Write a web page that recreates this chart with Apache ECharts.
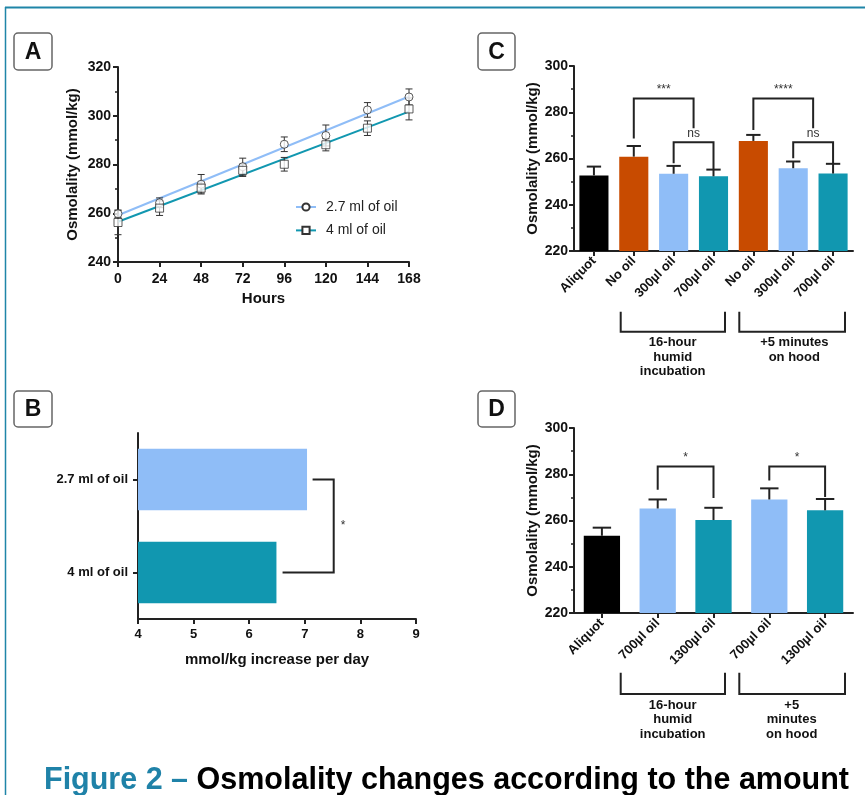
<!DOCTYPE html>
<html>
<head>
<meta charset="utf-8">
<script src="https://cdn.jsdelivr.net/npm/echarts@6/dist/echarts.min.js"></script>
<style>
html, body { margin: 0; padding: 0; background: #fff; }
#main { width: 865px; height: 795px; }
</style>
</head>
<body>
<div id="main"></div>
<script>
// ---- panel A : osmolality vs hours ----
var hours = [0, 24, 48, 72, 96, 120, 144, 168];
var osm27 = [259.8, 264.3, 271.9, 279.1, 288.3, 291.9, 302.4, 307.7];
var err27 = [1.5, 2, 4, 3.5, 3, 4.3, 3, 3.3];
var osm4 = [256.2, 262.1, 270.3, 277.6, 280.1, 288.1, 294.9, 302.8];
var err4 = [5, 3, 2, 2.5, 2.8, 2.5, 3, 4.5];
var fitHours = [0, 168];
var fit27 = [259.2, 307.9];
var fit4 = [256.5, 301.7];

// ---- panel B : increase per day ----
var bCats = ['4 ml of oil', '2.7 ml of oil'];
var bRates = [6.49, 7.04];
// bracket: [start of upper arm, spine, start of lower arm]
var bBracket = [7.14, 7.52, 6.6];
var bLabel = '*';

// ---- panel C ----
var cCats = ['Aliquot', 'No oil', '300\u00b5l oil', '700\u00b5l oil', 'No oil', '300\u00b5l oil', '700\u00b5l oil'];
var cVals = [252.7, 260.8, 253.4, 252.3, 267.6, 255.8, 253.5];
var cErr = [3.8, 4.6, 3.4, 2.9, 2.6, 2.9, 4.2];
// brackets: [left x, right x, top, left leg end, right leg end]
var cBrackets = [[1, 2.5, 286, 268.7, 273.1], [2, 3, 267, 257.9, 255.3], [4, 5.5, 286, 272.3, 273.1], [5, 6, 267, 260.1, 257.9]];
var cLabels = ['***', 'ns', '****', 'ns'];

// ---- panel D ----
var dCats = ['Aliquot', '700\u00b5l oil', '1300\u00b5l oil', '700\u00b5l oil', '1300\u00b5l oil'];
var dVals = [253.4, 265.2, 260.2, 269.1, 264.4];
var dErr = [3.5, 3.9, 5.3, 4.8, 4.9];
var dBrackets = [[1, 2, 283.4, 273.3, 269.7], [3, 4, 283.4, 277.3, 270.2]];
var dLabels = ['*', '*'];

var BLACK = '#000000', ORANGE = '#c84b00', LBLUE = '#8fbdf7', TEAL = '#1197b0';
var cColors = [BLACK, ORANGE, LBLUE, TEAL, ORANGE, LBLUE, TEAL];
var dColors = [BLACK, LBLUE, TEAL, LBLUE, TEAL];
var FONT = '"Liberation Sans", Arial, sans-serif';
var INK = '#222';

var chart = echarts.init(document.getElementById('main'));

function axisCommon(extra) {
  var o = {
    axisLine: { show: true, onZero: false, lineStyle: { color: INK, width: 2 } },
    axisTick: { show: true, length: 5, lineStyle: { color: INK, width: 2 } },
    axisLabel: { color: '#111', fontFamily: FONT, fontWeight: 'bold', fontSize: 14 },
    splitLine: { show: false },
    nameTextStyle: { color: '#111', fontFamily: FONT, fontWeight: 'bold', fontSize: 15 }
  };
  for (var k in extra) {
    if (typeof extra[k] === 'object' && o[k] && !Array.isArray(extra[k])) {
      for (var j in extra[k]) o[k][j] = extra[k][j];
    } else o[k] = extra[k];
  }
  return o;
}
var minorT = { show: true, splitNumber: 2, length: 3, lineStyle: { color: INK, width: 1.5 } };

function errRenderA(params, api) {
  var x = api.value(0);
  var lo = api.coord([x, api.value(1)]);
  var hi = api.coord([x, api.value(2)]);
  var w = 3.5, st = { stroke: '#333', lineWidth: 1 };
  return { type: 'group', children: [
    { type: 'line', shape: { x1: lo[0], y1: lo[1], x2: hi[0], y2: hi[1] }, style: st },
    { type: 'line', shape: { x1: lo[0] - w, y1: lo[1], x2: lo[0] + w, y2: lo[1] }, style: st },
    { type: 'line', shape: { x1: hi[0] - w, y1: hi[1], x2: hi[0] + w, y2: hi[1] }, style: st }
  ] };
}
function errRenderBar(frac) {
  return function (params, api) {
    var x = api.value(0);
    var lo = api.coord([x, api.value(1)]);
    var hi = api.coord([x, api.value(2)]);
    var w = api.size([1, 0])[0] * frac / 2;
    var st = { stroke: INK, lineWidth: 2 };
    return { type: 'group', children: [
      { type: 'line', shape: { x1: lo[0], y1: lo[1], x2: hi[0], y2: hi[1] }, style: st },
      { type: 'line', shape: { x1: hi[0] - w, y1: hi[1], x2: hi[0] + w, y2: hi[1] }, style: st }
    ] };
  };
}
function bracketRender(labels) {
  return function (params, api) {
    var x1 = api.value(0), x2 = api.value(1), top = api.value(2);
    var p1 = api.coord([x1, api.value(3)]), p2 = api.coord([x1, top]);
    var p3 = api.coord([x2, top]), p4 = api.coord([x2, api.value(4)]);
    return { type: 'group', children: [
      { type: 'polyline', shape: { points: [p1, p2, p3, p4] }, style: { stroke: INK, lineWidth: 2, fill: 'none' } },
      { type: 'text', style: { text: labels[params.dataIndex], x: (p2[0] + p3[0]) / 2, y: p2[1] - 3,
        align: 'center', verticalAlign: 'bottom', font: '12px ' + FONT, fill: '#333' } }
    ] };
  };
}
function bracketRenderB(params, api) {
  var a = api.value(0), s = api.value(1), b = api.value(2);
  var pts = [api.coord([a, 1]), api.coord([s, 1]), api.coord([s, 0]), api.coord([b, 0])];
  var mid = api.coord([s, 0.5]);
  return { type: 'group', children: [
    { type: 'polyline', shape: { points: pts }, style: { stroke: INK, lineWidth: 2, fill: 'none' } },
    { type: 'text', style: { text: bLabel, x: mid[0] + 7, y: mid[1], align: 'left', verticalAlign: 'middle', font: '12px ' + FONT, fill: '#333' } }
  ] };
}

function labelBox(letter, x, y, w, h) {
  return { type: 'group', children: [
    { type: 'rect', shape: { x: x, y: y, width: w, height: h, r: 4 }, style: { fill: '#fff', stroke: '#666', lineWidth: 1.5 } },
    { type: 'text', style: { text: letter, x: x + w / 2, y: y + h / 2 + 1, align: 'center', verticalAlign: 'middle', font: 'bold 23px ' + FONT, fill: '#111' } }
  ] };
}
function groupBracket(x1, x2, yTop, yBot, text, tx, ty) {
  return { type: 'group', children: [
    { type: 'polyline', shape: { points: [[x1, yTop], [x1, yBot], [x2, yBot], [x2, yTop]] }, style: { stroke: INK, lineWidth: 2, fill: 'none' } },
    { type: 'text', style: { text: text, x: tx, y: ty, align: 'center', verticalAlign: 'top', lineHeight: 14.5, font: 'bold 13px ' + FONT, fill: '#111' } }
  ] };
}

var option = {
  backgroundColor: '#fff',
  animation: false,
  title: {
    text: '{a|Figure 2 \u2013 }{b|Osmolality changes according to the amount}',
    left: 44, top: 766, padding: 0,
    textStyle: { rich: {
      a: { fontFamily: FONT, fontWeight: 'bold', fontSize: 30.5, color: '#1f82a8', lineHeight: 30 },
      b: { fontFamily: FONT, fontWeight: 'bold', fontSize: 30.5, color: '#000', lineHeight: 30 }
    } }
  },
  legend: {
    left: 295, top: 200, orient: 'vertical', itemWidth: 20, itemHeight: 9, itemGap: 9.4, padding: 0,
    selectedMode: false, data: ['2.7 ml of oil', '4 ml of oil'],
    textStyle: { fontFamily: FONT, fontSize: 14, color: '#222', padding: [0, 0, 0, 5] }
  },
  grid: [
    { left: 118, top: 67, width: 291, height: 195, outerBoundsMode: 'none' },
    { left: 138, top: 433, width: 278, height: 186, outerBoundsMode: 'none' },
    { left: 574, top: 66, width: 279, height: 185, outerBoundsMode: 'none' },
    { left: 574, top: 428, width: 279, height: 185, outerBoundsMode: 'none' }
  ],
  xAxis: [
    axisCommon({ type: 'value', gridIndex: 0, min: 0, max: 168, interval: 24, name: 'Hours', nameLocation: 'middle', nameGap: 29,
      axisLabel: { margin: 10 } }),
    axisCommon({ type: 'value', gridIndex: 1, min: 4, max: 9, interval: 1, name: 'mmol/kg increase per day', nameLocation: 'middle', nameGap: 33,
      axisLabel: { margin: 9, fontSize: 13 } }),
    axisCommon({ type: 'category', gridIndex: 2, data: cCats, axisTick: { alignWithLabel: true },
      axisLabel: { rotate: 45, margin: 8, fontSize: 13, interval: 0 } }),
    { type: 'value', gridIndex: 2, min: -0.5, max: 6.5, show: false },
    axisCommon({ type: 'category', gridIndex: 3, data: dCats, axisTick: { alignWithLabel: true },
      axisLabel: { rotate: 45, margin: 8, fontSize: 13, interval: 0 } }),
    { type: 'value', gridIndex: 3, min: -0.5, max: 4.5, show: false }
  ],
  yAxis: [
    axisCommon({ type: 'value', gridIndex: 0, min: 240, max: 320, interval: 20, name: 'Osmolality (mmol/kg)', nameLocation: 'middle', nameGap: 38,
      minorTick: minorT, axisLabel: { margin: 7 } }),
    axisCommon({ type: 'category', gridIndex: 1, data: bCats, axisTick: { alignWithLabel: true },
      axisLabel: { margin: 10, fontSize: 13 } }),
    { type: 'value', gridIndex: 1, min: -0.5, max: 1.5, show: false },
    axisCommon({ type: 'value', gridIndex: 2, min: 220, max: 300, interval: 20, name: 'Osmolality (mmol/kg)', nameLocation: 'middle', nameGap: 33,
      minorTick: minorT, axisLabel: { margin: 6 } }),
    axisCommon({ type: 'value', gridIndex: 3, min: 220, max: 300, interval: 20, name: 'Osmolality (mmol/kg)', nameLocation: 'middle', nameGap: 33,
      minorTick: minorT, axisLabel: { margin: 6 } })
  ],
  series: [
    { name: '2.7 ml of oil', type: 'line', xAxisIndex: 0, yAxisIndex: 0, data: fitHours.map(function (h, i) { return [h, fit27[i]]; }),
      symbol: 'circle', symbolSize: 7, showSymbol: false, lineStyle: { color: LBLUE, width: 2 },
      itemStyle: { color: '#fff', borderColor: '#333', borderWidth: 1 }, z: 2 },
    { name: '4 ml of oil', type: 'line', xAxisIndex: 0, yAxisIndex: 0, data: fitHours.map(function (h, i) { return [h, fit4[i]]; }),
      symbol: 'rect', symbolSize: 7, showSymbol: false, lineStyle: { color: TEAL, width: 2 },
      itemStyle: { color: '#fff', borderColor: '#333', borderWidth: 1 }, z: 2 },
    { type: 'custom', xAxisIndex: 0, yAxisIndex: 0, renderItem: errRenderA, encode: { x: 0, y: [1, 2] }, z: 3,
      data: hours.map(function (h, i) { return [h, osm27[i] - err27[i], osm27[i] + err27[i]]; }) },
    { type: 'custom', xAxisIndex: 0, yAxisIndex: 0, renderItem: errRenderA, encode: { x: 0, y: [1, 2] }, z: 3,
      data: hours.map(function (h, i) { return [h, osm4[i] - err4[i], osm4[i] + err4[i]]; }) },
    { name: 'pts27', type: 'scatter', xAxisIndex: 0, yAxisIndex: 0, symbol: 'circle', symbolSize: 8, z: 4,
      itemStyle: { color: '#fff', borderColor: '#333', borderWidth: 1 }, data: hours.map(function (h, i) { return [h, osm27[i]]; }) },
    { name: 'pts4', type: 'scatter', xAxisIndex: 0, yAxisIndex: 0, symbol: 'rect', symbolSize: 8, z: 4,
      itemStyle: { color: '#fff', borderColor: '#333', borderWidth: 1 }, data: hours.map(function (h, i) { return [h, osm4[i]]; }) },

    { type: 'bar', xAxisIndex: 1, yAxisIndex: 1, barWidth: '66%',
      data: bRates.map(function (v, i) { return { value: v, itemStyle: { color: i === 0 ? TEAL : LBLUE } }; }) },
    { type: 'custom', xAxisIndex: 1, yAxisIndex: 2, renderItem: bracketRenderB, encode: { x: [0, 1, 2] }, data: [bBracket] },

    { type: 'bar', xAxisIndex: 2, yAxisIndex: 3, barWidth: '73%',
      data: cVals.map(function (v, i) { return { value: v, itemStyle: { color: cColors[i] } }; }) },
    { type: 'custom', xAxisIndex: 2, yAxisIndex: 3, renderItem: errRenderBar(0.36), encode: { x: 0, y: [1, 2] }, z: 3,
      data: cVals.map(function (v, i) { return [i, v, v + cErr[i]]; }) },
    { type: 'custom', xAxisIndex: 3, yAxisIndex: 3, renderItem: bracketRender(cLabels), encode: { x: [0, 1], y: [2, 3, 4] }, data: cBrackets },

    { type: 'bar', xAxisIndex: 4, yAxisIndex: 4, barWidth: '65%',
      data: dVals.map(function (v, i) { return { value: v, itemStyle: { color: dColors[i] } }; }) },
    { type: 'custom', xAxisIndex: 4, yAxisIndex: 4, renderItem: errRenderBar(0.33), encode: { x: 0, y: [1, 2] }, z: 3,
      data: dVals.map(function (v, i) { return [i, v, v + dErr[i]]; }) },
    { type: 'custom', xAxisIndex: 5, yAxisIndex: 4, renderItem: bracketRender(dLabels), encode: { x: [0, 1], y: [2, 3, 4] }, data: dBrackets }
  ],
  graphic: [
    { type: 'line', shape: { x1: 5, y1: 7.5, x2: 865, y2: 7.5 }, style: { stroke: '#1f85a8', lineWidth: 2 } },
    { type: 'line', shape: { x1: 5.5, y1: 7, x2: 5.5, y2: 795 }, style: { stroke: '#1f85a8', lineWidth: 1.5 } },
    labelBox('A', 14, 33, 38, 37),
    labelBox('B', 14, 391, 38, 36),
    labelBox('C', 478, 33, 37, 37),
    labelBox('D', 478, 391, 37, 36),
    groupBracket(620.7, 725, 311.7, 331.7, '16-hour\nhumid\nincubation', 672.7, 335.5),
    groupBracket(739.3, 845, 311.7, 331.7, '+5 minutes\non hood', 794.3, 335.5),
    groupBracket(620.7, 725, 672.7, 694, '16-hour\nhumid\nincubation', 672.7, 697.7),
    groupBracket(739.3, 845, 672.7, 694, '+5\nminutes\non hood', 791.7, 697.7)
  ]
};
chart.setOption(option);
</script>
</body>
</html>
